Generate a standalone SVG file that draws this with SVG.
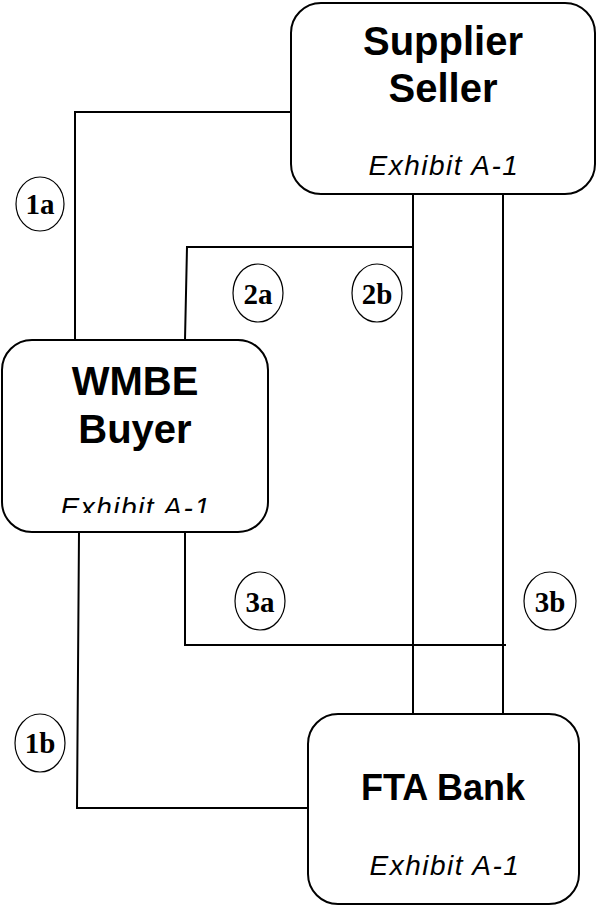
<svg xmlns="http://www.w3.org/2000/svg" width="596" height="906" viewBox="0 0 596 906">
<style>
.box{fill:#fff;stroke:#000;stroke-width:2}
.ln{fill:none;stroke:#000;stroke-width:2}
.c{fill:#fff;stroke:#000;stroke-width:1.2}
.t{font-family:"Liberation Sans",Arial,sans-serif;font-weight:bold;text-anchor:middle;fill:#000}
.ex{font-family:"Liberation Sans",Arial,sans-serif;font-style:italic;font-size:28px;letter-spacing:1.5px;text-anchor:middle;fill:#000}
.lb{font-family:"Liberation Serif","Times New Roman",serif;font-weight:bold;font-size:29px;text-anchor:middle;fill:#000}
</style>
<defs>
<clipPath id="wclip"><rect x="0" y="340" width="270" height="173"/></clipPath>
</defs>
<rect width="596" height="906" fill="#fff"/>
<g id="connectors">
<polyline class="ln" points="291,112 75,112 75,340"/>
<line class="ln" x1="413" y1="194" x2="413" y2="714"/>
<line class="ln" x1="503" y1="194" x2="503" y2="714"/>
<polyline class="ln" points="413,247 187,247 185,340"/>
<polyline class="ln" points="185,532 185,645 506,645"/>
<polyline class="ln" points="79,532 77,808 308,808"/>
</g>
<g id="supplier">
<rect class="box" x="291" y="3" width="304" height="191" rx="30" ry="30"/>
<text class="t" x="443" y="55" font-size="40">Supplier</text>
<text class="t" x="443" y="102" font-size="40">Seller</text>
<text class="ex" x="444" y="175">Exhibit A-1</text>
</g>
<g id="wmbe">
<rect class="box" x="2" y="340" width="266" height="192" rx="30" ry="30"/>
<text class="t" x="135" y="395" font-size="40">WMBE</text>
<text class="t" x="135" y="443" font-size="40">Buyer</text>
<text class="ex" x="136" y="517" clip-path="url(#wclip)">Exhibit A-1</text>
</g>
<g id="fta">
<rect class="box" x="308" y="714" width="271" height="190" rx="30" ry="30"/>
<text class="t" x="443" y="800" font-size="36">FTA Bank</text>
<text class="ex" x="445" y="875">Exhibit A-1</text>
</g>
<g id="label-1a"><ellipse class="c" cx="40" cy="204" rx="24" ry="27"/><text class="lb" x="40" y="214">1a</text></g>
<g id="label-2a"><ellipse class="c" cx="258" cy="293" rx="25" ry="29"/><text class="lb" x="258" y="304">2a</text></g>
<g id="label-2b"><ellipse class="c" cx="377" cy="293" rx="25" ry="29"/><text class="lb" x="377" y="304">2b</text></g>
<g id="label-3a"><ellipse class="c" cx="260" cy="601" rx="25" ry="29"/><text class="lb" x="260" y="612">3a</text></g>
<g id="label-3b"><ellipse class="c" cx="550" cy="601" rx="26" ry="29"/><text class="lb" x="550" y="612">3b</text></g>
<g id="label-1b"><ellipse class="c" cx="40" cy="743" rx="25" ry="29"/><text class="lb" x="40" y="753">1b</text></g>
</svg>
